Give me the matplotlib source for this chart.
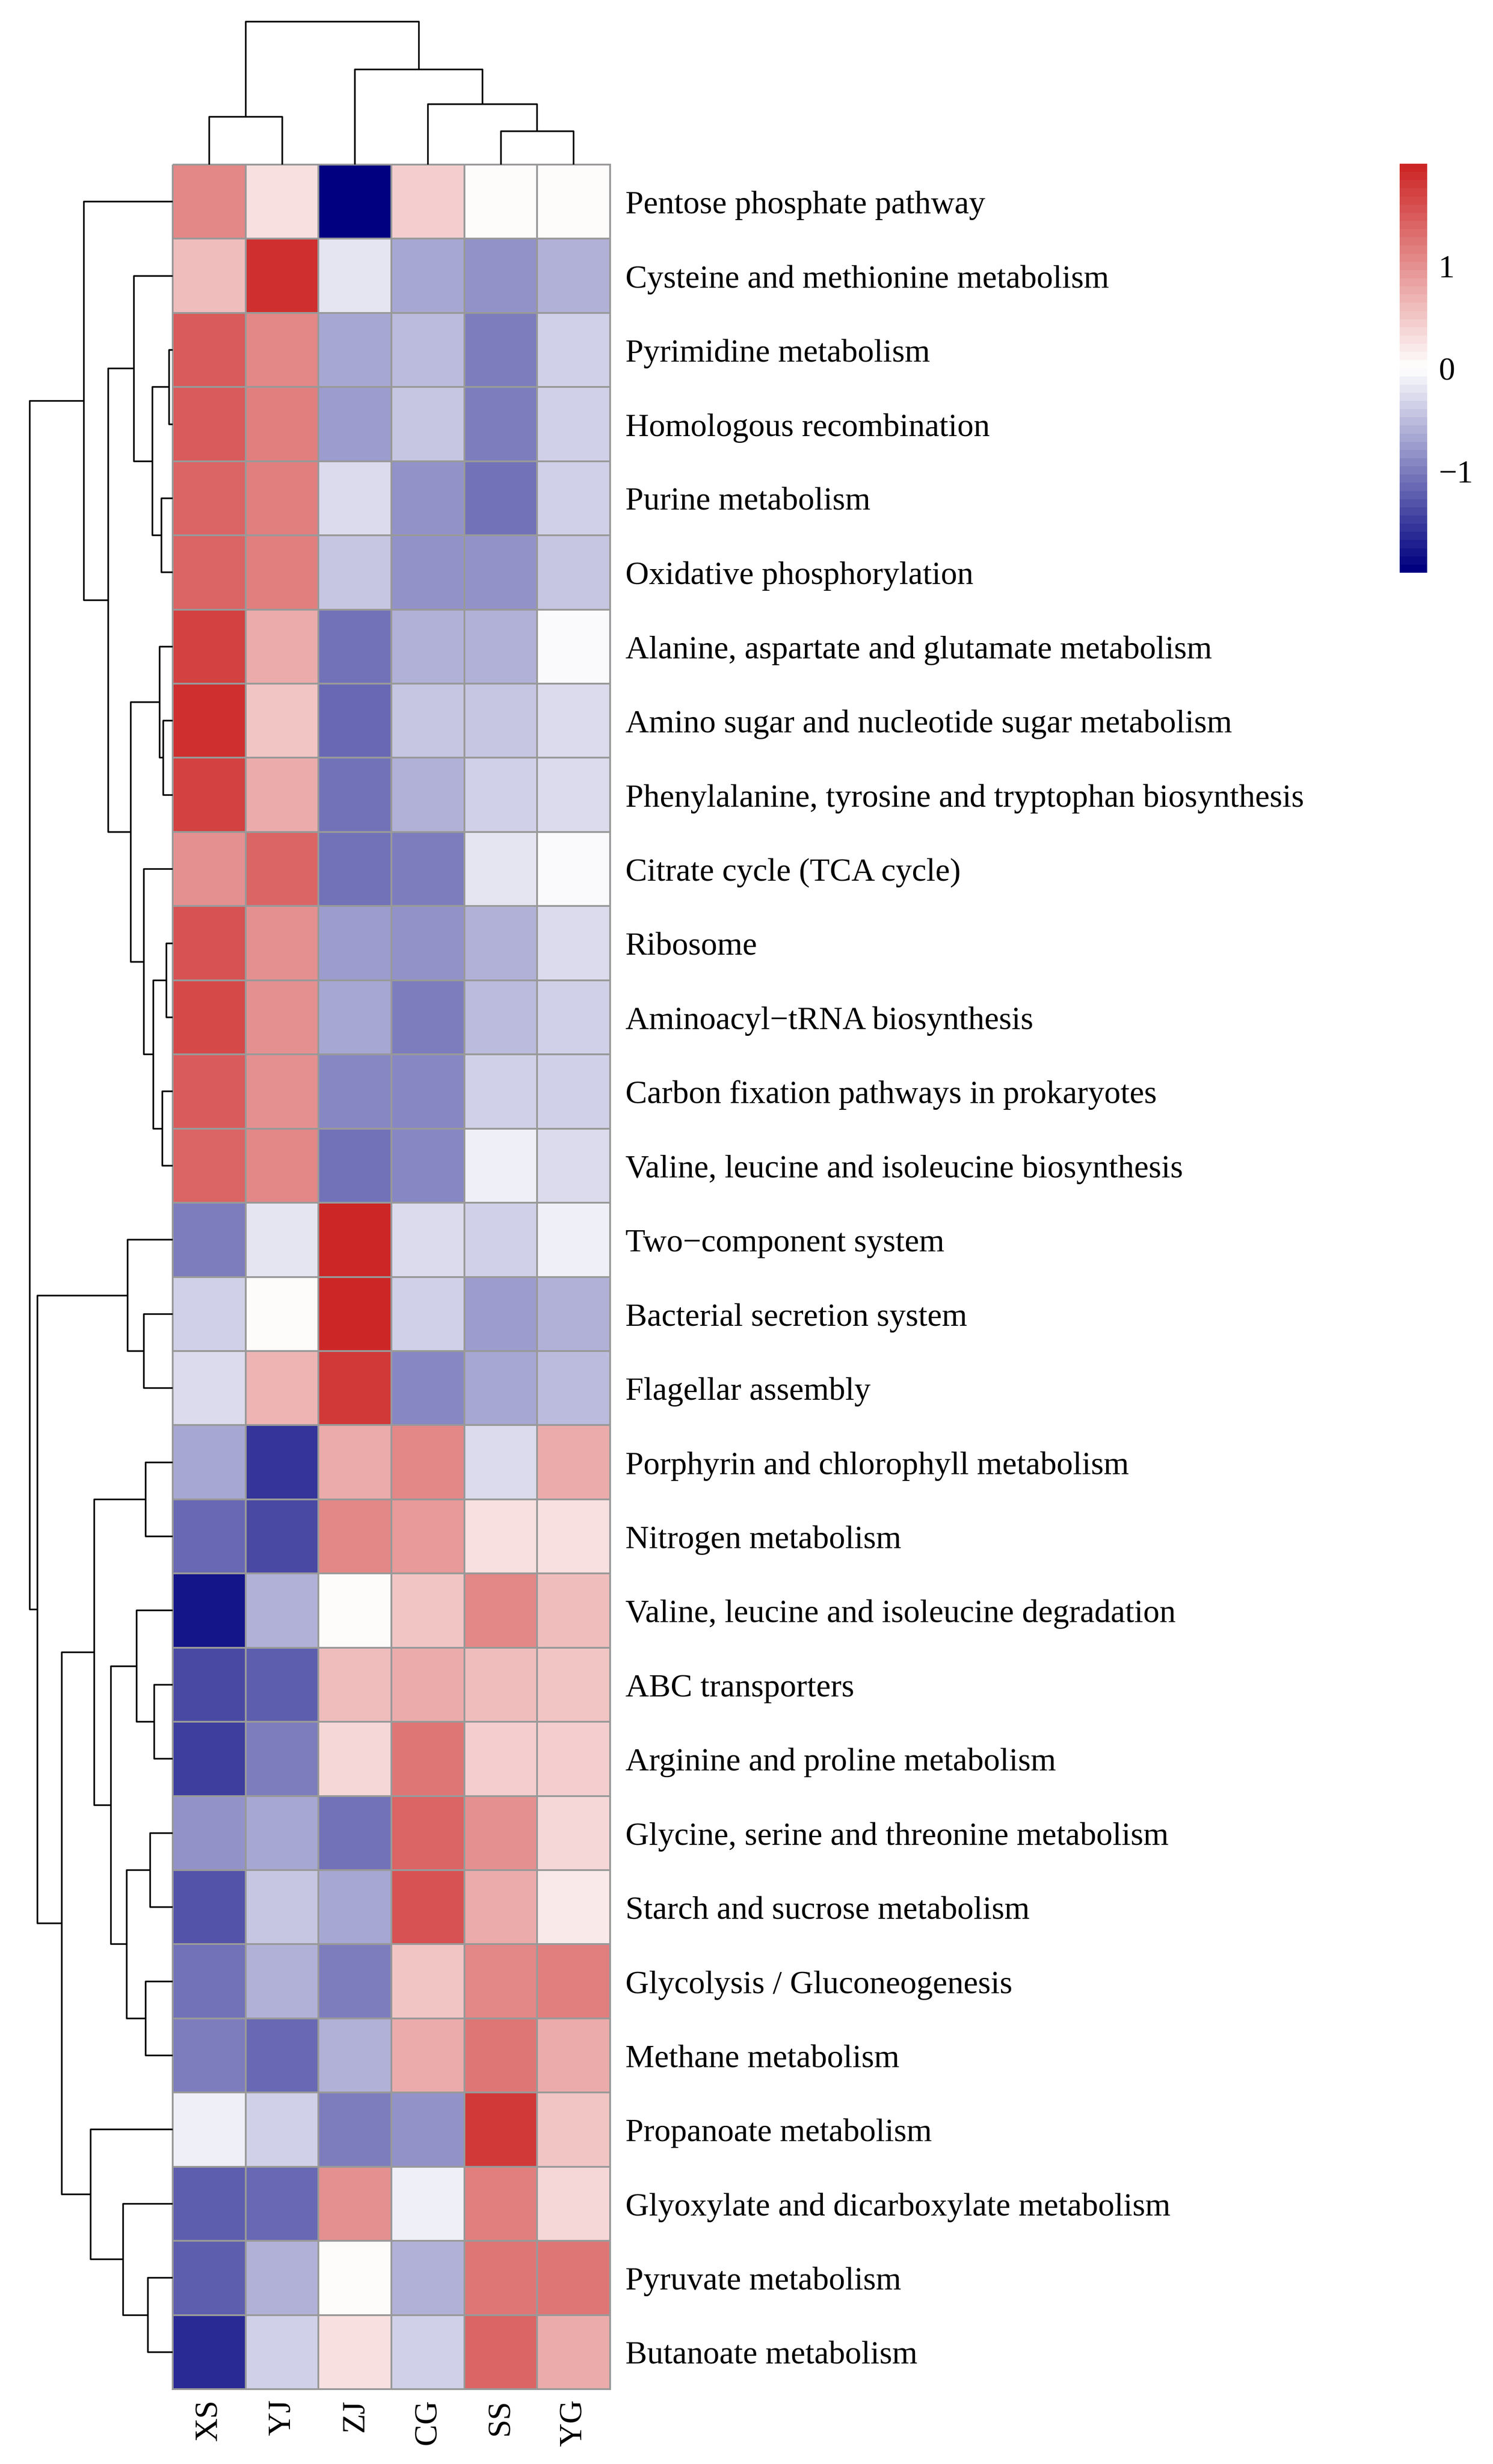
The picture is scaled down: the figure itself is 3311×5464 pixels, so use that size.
import numpy as np
import matplotlib
matplotlib.use("Agg")
import matplotlib.pyplot as plt
from matplotlib.colors import LinearSegmentedColormap, Normalize
from matplotlib.transforms import offset_copy
import matplotlib.cm as cm

plt.rcParams['font.family'] = ['Liberation Serif', 'DejaVu Serif']

# ---------------- data ----------------
samples = ["XS", "YJ", "ZJ", "CG", "SS", "YG"]
pathways = [
    "Pentose phosphate pathway",
    "Cysteine and methionine metabolism",
    "Pyrimidine metabolism",
    "Homologous recombination",
    "Purine metabolism",
    "Oxidative phosphorylation",
    "Alanine, aspartate and glutamate metabolism",
    "Amino sugar and nucleotide sugar metabolism",
    "Phenylalanine, tyrosine and tryptophan biosynthesis",
    "Citrate cycle (TCA cycle)",
    "Ribosome",
    "Aminoacyl\u2212tRNA biosynthesis",
    "Carbon fixation pathways in prokaryotes",
    "Valine, leucine and isoleucine biosynthesis",
    "Two\u2212component system",
    "Bacterial secretion system",
    "Flagellar assembly",
    "Porphyrin and chlorophyll metabolism",
    "Nitrogen metabolism",
    "Valine, leucine and isoleucine degradation",
    "ABC transporters",
    "Arginine and proline metabolism",
    "Glycine, serine and threonine metabolism",
    "Starch and sucrose metabolism",
    "Glycolysis / Gluconeogenesis",
    "Methane metabolism",
    "Propanoate metabolism",
    "Glyoxylate and dicarboxylate metabolism",
    "Pyruvate metabolism",
    "Butanoate metabolism",
]

# row-scaled values (z-scores), one list per sample, rows in display order
XS = [1.07, 0.58, 1.48, 1.45, 1.42, 1.42, 1.68, 1.84, 1.73, 1.03, 1.52, 1.60, 1.50, 1.39, -1.00,
      -0.34, -0.30, -0.71, -1.12, -1.80, -1.37, -1.46, -0.87, -1.31, -1.05, -0.96, -0.13, -1.24, -1.24, -1.65]
YJ = [0.25, 1.85, 1.10, 1.15, 1.15, 1.16, 0.72, 0.55, 0.75, 1.39, 0.98, 0.98, 1.00, 1.08, -0.22,
      0.00, 0.66, -1.58, -1.40, -0.56, -1.27, -1.00, -0.65, -0.46, -0.62, -1.18, -0.34, -1.12, -0.56, -0.34]
ZJ = [-1.99, -0.20, -0.71, -0.74, -0.24, -0.43, -1.05, -1.15, -1.10, -1.09, -0.75, -0.65, -0.88, -1.05, 1.98,
      1.99, 1.81, 0.72, 1.05, 0.00, 0.62, 0.36, -1.05, -0.65, -1.00, -0.56, -1.00, 1.03, 0.00, 0.29]
CG = [0.47, -0.65, -0.49, -0.43, -0.81, -0.86, -0.62, -0.43, -0.62, -1.00, -0.87, -0.97, -0.88, -0.93, -0.25,
      -0.36, -0.93, 1.08, 0.92, 0.55, 0.77, 1.22, 1.37, 1.54, 0.50, 0.77, -0.81, -0.13, -0.62, -0.34]
SS = [0.00, -0.87, -0.97, -1.02, -1.06, -0.81, -0.62, -0.46, -0.36, -0.18, -0.60, -0.55, -0.34, -0.15, -0.34,
      -0.72, -0.65, -0.24, 0.25, 1.08, 0.62, 0.47, 0.96, 0.74, 1.08, 1.22, 1.81, 1.12, 1.23, 1.37]
YG = [0.06, -0.62, -0.34, -0.34, -0.38, -0.46, -0.04, -0.24, -0.30, -0.04, -0.28, -0.34, -0.34, -0.27, -0.10,
      -0.56, -0.50, 0.72, 0.25, 0.62, 0.50, 0.43, 0.34, 0.16, 1.14, 0.75, 0.55, 0.34, 1.25, 0.72]

# hierarchical merges (child a, child b, relative height); leaves are display indices,
# merge k creates cluster id n + k
row_merges = [
    (2, 3, 0.025), (4, 5, 0.079), (30, 31, 0.142), (1, 32, 0.271),
    (7, 8, 0.066), (6, 34, 0.091), (10, 11, 0.044), (12, 13, 0.073),
    (36, 37, 0.136), (9, 38, 0.202), (35, 39, 0.293), (33, 40, 0.451),
    (0, 41, 0.621), (15, 16, 0.202), (14, 43, 0.315), (17, 18, 0.189),
    (20, 21, 0.129), (19, 46, 0.253), (22, 23, 0.158), (24, 25, 0.189),
    (48, 49, 0.322), (47, 50, 0.432), (45, 51, 0.549), (28, 29, 0.173),
    (27, 53, 0.347), (26, 54, 0.574), (52, 55, 0.776), (44, 56, 0.946),
    (42, 57, 1.000),
]
col_merges = [(0, 1, 0.335), (4, 5, 0.234), (3, 7, 0.424), (2, 8, 0.665), (6, 9, 1.000)]

legend_ticks = [-1, 0, 1]

# ---------------- figure ----------------
W, H, DPI = 3312, 5465, 300
fig = plt.figure(figsize=(W / DPI, H / DPI), dpi=DPI)
fig.patch.set_facecolor("white")

mat = np.column_stack([XS, YJ, ZJ, CG, SS, YG])
nrow, ncol = mat.shape

cmap = LinearSegmentedColormap.from_list("pheat", ["#000080", "#FFFFFF", "#CD2626"], N=50)
norm = Normalize(vmin=mat.min(), vmax=mat.max())

hx0, hx1, hy0, hy1 = 383, 1353, 366, 5299
ax = fig.add_axes([hx0 / W, 1 - hy1 / H, (hx1 - hx0) / W, (hy1 - hy0) / H])
mesh = ax.pcolormesh(np.arange(ncol + 1), np.arange(nrow + 1), mat, cmap=cmap, norm=norm,
                     edgecolors="#999999", linewidth=0.85)
mesh.set_clip_on(False)
ax.set_xlim(0, ncol)
ax.set_ylim(nrow, 0)
ax.axis("off")

fs = 17.3
lab_tr = offset_copy(ax.transData, fig=fig, x=34 / DPI * 72, y=-6.0, units="points")
for i, name in enumerate(pathways):
    ax.text(ncol, i + 0.5, name, transform=lab_tr, ha="left", va="baseline", fontsize=fs)

col_tr = offset_copy(ax.transData, fig=fig, x=0, y=-22 / DPI * 72, units="points")
for j, s in enumerate(samples):
    ax.text(j + 0.5, nrow, s, transform=col_tr, rotation=90, rotation_mode="anchor",
            ha="right", va="center", fontsize=fs)


def draw_dendro(dax, merges, n, orient):
    pos = {i: i + 0.5 for i in range(n)}
    hgt = {i: 0.0 for i in range(n)}
    for k, (a, b, h) in enumerate(merges):
        pa, pb = pos[a], pos[b]
        xs = [pa, pa, pb, pb]
        ys = [hgt[a], h, h, hgt[b]]
        if orient == "top":
            dax.plot(xs, ys, color="black", lw=0.85, clip_on=False, solid_capstyle="butt")
        else:
            dax.plot(ys, xs, color="black", lw=0.85, clip_on=False, solid_capstyle="butt")
        pos[n + k] = (pa + pb) / 2
        hgt[n + k] = h


# row dendrogram (left)
rd = fig.add_axes([66 / W, 1 - hy1 / H, (hx0 - 66) / W, (hy1 - hy0) / H])
draw_dendro(rd, row_merges, nrow, "left")
rd.set_xlim(1.0, 0.0)
rd.set_ylim(nrow, 0)
rd.axis("off")

# column dendrogram (top)
cd = fig.add_axes([hx0 / W, 1 - hy0 / H, (hx1 - hx0) / W, (hy0 - 49) / H])
draw_dendro(cd, col_merges, ncol, "top")
cd.set_xlim(0, ncol)
cd.set_ylim(0, 1.0)
cd.axis("off")

# legend colorbar
cax = fig.add_axes([3104 / W, 1 - 1271 / H, 61 / W, (1271 - 364) / H])
sm = cm.ScalarMappable(norm=norm, cmap=cmap)
cb = fig.colorbar(sm, cax=cax)
cb.outline.set_visible(False)
cb.set_ticks(legend_ticks)
cb.set_ticklabels(["\u22121", "0", "1"])
cax.tick_params(length=0, pad=25 / DPI * 72, labelsize=fs)

fig.savefig("out.png", dpi=DPI, facecolor="white")
